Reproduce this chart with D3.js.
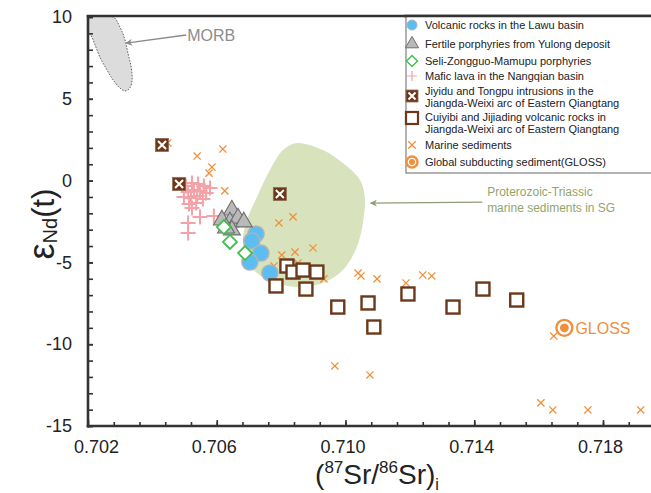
<!DOCTYPE html>
<html>
<head>
<meta charset="utf-8">
<script src="https://cdn.jsdelivr.net/npm/d3@7"></script>
<style>
  html, body { margin: 0; padding: 0; background: #fff; }
  svg { display: block; font-family: "Liberation Sans", Arial, Helvetica, sans-serif; }
</style>
</head>
<body>
<svg id="chart" width="651" height="493"></svg>
<script>
// ---- Sr–Nd isotope data: (87Sr/86Sr)i and εNd(t) ----
const lawuSr = [0.70722, 0.70709, 0.70737, 0.70703, 0.70765];
const lawuNd = [-3.26, -3.69, -4.43, -4.98, -5.65];

const yulongSr = [0.70647, 0.70616, 0.70641, 0.70666, 0.70684, 0.70647, 0.70629];
const yulongNd = [-1.80, -2.41, -2.53, -2.29, -2.53, -3.02, -2.90];

const seliSr = [0.70622, 0.70641, 0.70688];
const seliNd = [-2.84, -3.75, -4.43];

const nangqianSr = [0.70504, 0.70523, 0.70542, 0.70560, 0.70579, 0.70511, 0.70529, 0.70548, 0.70567, 0.70498,
                    0.70520, 0.70539, 0.70557, 0.70514, 0.70536, 0.70523, 0.70548, 0.70511, 0.70511, 0.70591];
const nangqianNd = [-0.33, -0.15, -0.21, -0.33, -0.45, -0.70, -0.57, -0.64, -0.76, -1.00,
                    -1.06, -0.94, -1.12, -1.43, -1.37, -1.67, -2.23, -2.59, -3.20, -2.16];

const jiyiduSr = [0.70430, 0.70483, 0.70796];
const jiyiduNd = [2.18, -0.21, -0.82];

const cuiyibiSr = [0.70818, 0.70837, 0.70868, 0.70911, 0.70784, 0.70877, 0.70976, 0.71070, 0.71088,
                   0.71194, 0.71334, 0.71427, 0.71532];
const cuiyibiNd = [-5.22, -5.59, -5.47, -5.59, -6.44, -6.63, -7.73, -7.48, -8.95,
                   -6.93, -7.73, -6.63, -7.30];

const marineSr = [0.70448, 0.70539, 0.70619, 0.70585, 0.70576, 0.70625, 0.70793, 0.70837, 0.70899, 0.70843,
                  0.70802, 0.70778, 0.70852, 0.70933, 0.71039, 0.71048, 0.71098, 0.71188, 0.71240, 0.71268,
                  0.71647, 0.71607, 0.71644, 0.71753, 0.71917, 0.70967, 0.71076];
const marineNd = [2.30, 1.50, 1.93, 0.83, 0.46, -0.63, -2.59, -2.22, -4.12, -4.37,
                  -4.55, -5.22, -5.04, -6.01, -5.65, -5.83, -6.01, -6.26, -5.77, -5.83,
                  -9.50, -13.59, -14.02, -14.02, -14.02, -11.33, -11.88];

const glossSr = [0.7168];
const glossNd = [-9.0];

// Field outlines
const morbSr = [0.7020, 0.70278, 0.70299, 0.70315, 0.70324, 0.70334, 0.70337, 0.70330, 0.70315, 0.70299,
                0.70278, 0.70259, 0.70237, 0.70222, 0.70212, 0.70203, 0.7020];
const morbNd = [10.0, 10.0, 9.39, 8.60, 7.80, 6.94, 6.15, 5.66, 5.48, 5.66,
                6.15, 6.76, 7.55, 8.29, 8.78, 9.08, 9.2];

const sgSr = [0.70849, 0.70930, 0.70992, 0.71045, 0.71060, 0.71054, 0.71035, 0.70992, 0.70930,
              0.70849, 0.70775, 0.70725, 0.70694, 0.70681, 0.70694, 0.70725, 0.70765, 0.70806];
const sgNd = [2.30, 1.87, 1.07, 0.04, -1.00, -2.59, -4.07, -5.47, -6.26,
              -6.50, -6.20, -5.65, -4.85, -3.63, -2.41, -1.00, 0.65, 1.87];

// Axis ticks
const xTickLabels = ["0.702", "0.706", "0.710", "0.714", "0.718"];
const yTickLabels = ["-15", "-10", "-5", "0", "5", "10"];

const legendLabels = [
  ["Volcanic rocks in the Lawu basin"],
  ["Fertile porphyries from Yulong deposit"],
  ["Seli-Zongguo-Mamupu porphyries"],
  ["Mafic lava in the Nangqian basin"],
  ["Jiyidu and Tongpu intrusions in the", "Jiangda-Weixi arc of Eastern Qiangtang"],
  ["Cuiyibi and Jijiading volcanic rocks in", "Jiangda-Weixi arc of Eastern Qiangtang"],
  ["Marine sediments"],
  ["Global subducting sediment(GLOSS)"]
];

// ---- layout ----
const W = 651, H = 493;
const plotLeft = 88, plotBottom = 426, plotTop = 17;
const x = d3.scaleLinear().domain([0.702, 0.718]).range([plotLeft, 603]);
const y = d3.scaleLinear().domain([-15, 10]).range([plotBottom, plotTop]);
const xEnd = W;

const svg = d3.select("#chart");
const zip = (a, b) => a.map((v, i) => [v, b[i]]);

const colors = {
  blue: "#5cbdf0", blueStroke: "#a9b4bd",
  triFill: "#b9b9b9", triStroke: "#6e6e6e",
  green: "#3fbf4d",
  pink: "#f4a2a8",
  brown: "#6b3819",
  orange: "#f0903a",
  sg: "#d8e3bd", sgText: "#92a56c",
  morbFill: "#dcdcdc", gray: "#8c8c8c",
  axis: "#333"
};

// Fields
svg.append("path")
  .attr("d", d3.line().x(d => x(d[0])).y(d => y(d[1])).curve(d3.curveCatmullRomClosed.alpha(0.5))(zip(sgSr, sgNd)))
  .attr("fill", colors.sg);

svg.append("path")
  .attr("d", d3.line().x(d => x(d[0])).y(d => y(d[1])).curve(d3.curveCatmullRom.alpha(0.5))(zip(morbSr, morbNd)))
  .attr("fill", colors.morbFill)
  .attr("stroke", "#555")
  .attr("stroke-width", 0.9)
  .attr("stroke-dasharray", "1.6,1.4");

// Arrow markers
const defs = svg.append("defs");
function arrowHead(id, color) {
  defs.append("marker").attr("id", id)
    .attr("viewBox", "0 0 10 10").attr("refX", 9).attr("refY", 5)
    .attr("markerWidth", 9).attr("markerHeight", 7).attr("orient", "auto")
    .attr("markerUnits", "userSpaceOnUse")
    .append("path").attr("d", "M0,0L10,5L0,10L3,5Z").attr("fill", color);
}
arrowHead("arrGray", "#8a8a8a");
arrowHead("arrGreen", "#8d9c74");

// MORB label and arrow
svg.append("line")
  .attr("x1", x(0.70505)).attr("y1", y(8.9))
  .attr("x2", x(0.70318)).attr("y2", y(8.4))
  .attr("stroke", "#8a8a8a").attr("stroke-width", 1.3)
  .attr("marker-end", "url(#arrGray)");
svg.append("text").attr("x", x(0.70508)).attr("y", y(8.9) + 6)
  .attr("font-size", 16).attr("fill", colors.gray).text("MORB");

// SG field label and arrow
svg.append("line")
  .attr("x1", x(0.71425)).attr("y1", y(-1.32))
  .attr("x2", x(0.71078)).attr("y2", y(-1.38))
  .attr("stroke", "#8d9c74").attr("stroke-width", 1.3)
  .attr("marker-end", "url(#arrGreen)");
const sgLabel = svg.append("text").attr("font-size", 12).attr("fill", colors.sgText);
sgLabel.append("tspan").attr("x", x(0.7144)).attr("y", y(-0.95)).text("Proterozoic-Triassic");
sgLabel.append("tspan").attr("x", x(0.7144)).attr("y", y(-1.9)).text("marine sediments in SG");

// Symbol paths
const crossPath = s => `M${-s},0H${s}M0,${-s}V${s}`;
const xPath = s => `M${-s},${-s}L${s},${s}M${-s},${s}L${s},${-s}`;
const diamondPath = s => `M0,${-s}L${s},0L0,${s}L${-s},0Z`;
const triPath = d3.symbol(d3.symbolTriangle, 125)();

// Nangqian mafic lava (crosses)
svg.append("g").selectAll("path").data(zip(nangqianSr, nangqianNd)).join("path")
  .attr("transform", d => `translate(${x(d[0])},${y(d[1])})`)
  .attr("d", crossPath(7.5))
  .attr("stroke", colors.pink).attr("stroke-width", 2).attr("fill", "none");

// Marine sediments
svg.append("g").selectAll("path").data(zip(marineSr, marineNd)).join("path")
  .attr("transform", d => `translate(${x(d[0])},${y(d[1])})`)
  .attr("d", xPath(3.6))
  .attr("stroke", colors.orange).attr("stroke-width", 1.3).attr("fill", "none");

// Lawu volcanic rocks
svg.append("g").selectAll("circle").data(zip(lawuSr, lawuNd)).join("circle")
  .attr("cx", d => x(d[0])).attr("cy", d => y(d[1])).attr("r", 8)
  .attr("fill", colors.blue).attr("stroke", colors.blueStroke).attr("stroke-width", 1.6);

// Yulong porphyries
svg.append("g").selectAll("path").data(zip(yulongSr, yulongNd)).join("path")
  .attr("transform", d => `translate(${x(d[0])},${y(d[1])})`)
  .attr("d", triPath)
  .attr("fill", colors.triFill).attr("stroke", colors.triStroke).attr("stroke-width", 1.1);

// Seli-Zongguo-Mamupu porphyries
svg.append("g").selectAll("path").data(zip(seliSr, seliNd)).join("path")
  .attr("transform", d => `translate(${x(d[0])},${y(d[1])})`)
  .attr("d", diamondPath(7))
  .attr("fill", "#fff").attr("stroke", colors.green).attr("stroke-width", 1.8);

// Jiyidu and Tongpu intrusions
function jiyiduMark(g, s) {
  g.append("rect").attr("x", -s).attr("y", -s).attr("width", 2 * s).attr("height", 2 * s)
    .attr("fill", colors.brown).attr("stroke", "#8a6a55").attr("stroke-width", 0.8);
  g.append("path").attr("d", xPath(s - 2.5)).attr("stroke", "#fff").attr("stroke-width", 2);
}
svg.append("g").selectAll("g").data(zip(jiyiduSr, jiyiduNd)).join("g")
  .attr("transform", d => `translate(${x(d[0])},${y(d[1])})`)
  .each(function () { jiyiduMark(d3.select(this), 6.5); });

// Cuiyibi and Jijiading volcanic rocks
svg.append("g").selectAll("rect").data(zip(cuiyibiSr, cuiyibiNd)).join("rect")
  .attr("x", d => x(d[0]) - 6.5).attr("y", d => y(d[1]) - 6.5)
  .attr("width", 13).attr("height", 13)
  .attr("fill", "#fff").attr("stroke", colors.brown).attr("stroke-width", 2.4);

// GLOSS
function glossMark(g, r) {
  g.append("circle").attr("r", r).attr("fill", "#fff").attr("stroke", colors.orange).attr("stroke-width", 2.4);
  g.append("circle").attr("r", r * 0.55).attr("fill", colors.orange);
}
const glossG = svg.append("g").selectAll("g").data(zip(glossSr, glossNd)).join("g")
  .attr("transform", d => `translate(${x(d[0])},${y(d[1])})`)
  .each(function () { glossMark(d3.select(this), 8); });
glossG.append("text").attr("x", 11).attr("y", 6).attr("font-size", 16)
  .attr("fill", colors.orange).text("GLOSS");

// ---- axes ----
const xMax = x.invert(xEnd);
const xMinor = d3.range(1, 40).map(k => 0.702 + k * 0.0008).filter(v => v < xMax);
const xMajor = xTickLabels.map(Number);

svg.append("g").attr("transform", `translate(0,${plotBottom})`)
  .call(d3.axisBottom(x).tickValues(xMinor).tickSize(-4).tickFormat(""))
  .call(g => g.select(".domain").remove())
  .call(g => g.selectAll("line").attr("stroke", colors.axis).attr("stroke-width", 1.6));

svg.append("g").attr("transform", `translate(0,${plotBottom})`)
  .call(d3.axisBottom(x).tickValues(xMajor).tickSize(-6).tickPadding(14).tickFormat((d, i) => xTickLabels[i]))
  .call(g => g.select(".domain").remove())
  .call(g => g.selectAll("line").attr("stroke", colors.axis).attr("stroke-width", 1.6))
  .call(g => g.selectAll("text").attr("font-size", 18).attr("fill", "#222")
    .attr("font-family", "'Liberation Sans', Arial, sans-serif")
    .attr("dx", (d, i) => i === 0 ? 8 : -3));

const yMinor = d3.range(-15, 11);
svg.append("g").attr("transform", `translate(${plotLeft},0)`)
  .call(d3.axisLeft(y).tickValues(yMinor).tickSize(-5).tickFormat(""))
  .call(g => g.select(".domain").remove())
  .call(g => g.selectAll("line").attr("stroke", colors.axis).attr("stroke-width", 1.6));

svg.append("g").attr("transform", `translate(${plotLeft},0)`)
  .call(d3.axisLeft(y).tickValues(yTickLabels.map(Number)).tickSize(-5).tickPadding(16)
    .tickFormat((d, i) => yTickLabels[i]))
  .call(g => g.select(".domain").remove())
  .call(g => g.selectAll("line").attr("stroke", colors.axis).attr("stroke-width", 1.6))
  .call(g => g.selectAll("text").attr("font-size", 18).attr("fill", "#222")
    .attr("font-family", "'Liberation Sans', Arial, sans-serif"));

// Frame lines (left, bottom, top)
svg.append("line").attr("x1", plotLeft).attr("x2", plotLeft).attr("y1", plotTop - 1.5).attr("y2", plotBottom + 1.5)
  .attr("stroke", colors.axis).attr("stroke-width", 2.6);
svg.append("line").attr("x1", plotLeft - 1.3).attr("x2", xEnd).attr("y1", plotBottom).attr("y2", plotBottom)
  .attr("stroke", colors.axis).attr("stroke-width", 2.6);
svg.append("line").attr("x1", plotLeft - 1.3).attr("x2", xEnd).attr("y1", plotTop - 1).attr("y2", plotTop - 1)
  .attr("stroke", colors.axis).attr("stroke-width", 2.6);

// ---- legend ----
const lg = svg.append("g");
lg.append("rect").attr("x", 406).attr("y", plotTop - 1).attr("width", W - 406 + 2).attr("height", 157)
  .attr("fill", "#fff").attr("stroke", "#666").attr("stroke-width", 1);
// keep the top frame line above the legend border
svg.append("line").attr("x1", 404).attr("x2", xEnd).attr("y1", plotTop - 1).attr("y2", plotTop - 1)
  .attr("stroke", colors.axis).attr("stroke-width", 2.6);

const symX = 412, txtX = 425;
const rowY = [25, 44, 61, 76, 97, 123, 145, 162];
const lineGap = 12.5;

const rows = lg.selectAll("g.row").data(legendLabels).join("g").attr("class", "row")
  .attr("transform", (d, i) => `translate(0,${rowY[i]})`);

rows.each(function (lines, i) {
  const g = d3.select(this);
  const t = g.append("text").attr("font-size", 11).attr("fill", "#222");
  const y0 = lines.length === 1 ? 4 : -2.5;
  lines.forEach((s, k) => t.append("tspan").attr("x", txtX).attr("y", y0 + k * lineGap).text(s));
  const s = g.append("g").attr("transform", `translate(${symX},${i === 5 ? -5 : (i === 4 ? -1 : 0)})`);
  if (i === 0) s.append("circle").attr("r", 5).attr("fill", colors.blue).attr("stroke", colors.blueStroke);
  if (i === 1) s.append("path").attr("d", d3.symbol(d3.symbolTriangle, 75)()).attr("fill", colors.triFill)
    .attr("stroke", colors.triStroke);
  if (i === 2) s.append("path").attr("d", diamondPath(5.5)).attr("fill", "#fff")
    .attr("stroke", colors.green).attr("stroke-width", 1.4);
  if (i === 3) s.append("path").attr("d", crossPath(5)).attr("stroke", colors.pink).attr("stroke-width", 1.2);
  if (i === 4) jiyiduMark(s, 6);
  if (i === 5) s.append("rect").attr("x", -6).attr("y", -6).attr("width", 12).attr("height", 12)
    .attr("fill", "#fff").attr("stroke", colors.brown).attr("stroke-width", 2.2);
  if (i === 6) s.append("path").attr("d", xPath(3.8)).attr("stroke", colors.orange).attr("stroke-width", 1.3);
  if (i === 7) glossMark(s, 5.5);
});

// ---- axis titles ----
const xt = svg.append("text").attr("x", 377).attr("y", 484).attr("text-anchor", "middle")
  .attr("font-size", 28).attr("fill", "#222");
xt.append("tspan").text("(");
xt.append("tspan").attr("font-size", 17).attr("dy", -11).text("87");
xt.append("tspan").attr("dy", 11).text("Sr/");
xt.append("tspan").attr("font-size", 17).attr("dy", -11).text("86");
xt.append("tspan").attr("dy", 11).text("Sr)");
xt.append("tspan").attr("font-size", 16).attr("dy", 6).text("i");

const yt = svg.append("text").attr("transform", "translate(54,224) rotate(-90)")
  .attr("text-anchor", "middle").attr("fill", "#222");
yt.append("tspan").attr("font-size", 36).text("ε");
yt.append("tspan").attr("font-size", 20).attr("dy", 3).text("Nd");
yt.append("tspan").attr("font-size", 31).attr("dy", -3).text("(t)");
</script>
</body>
</html>
